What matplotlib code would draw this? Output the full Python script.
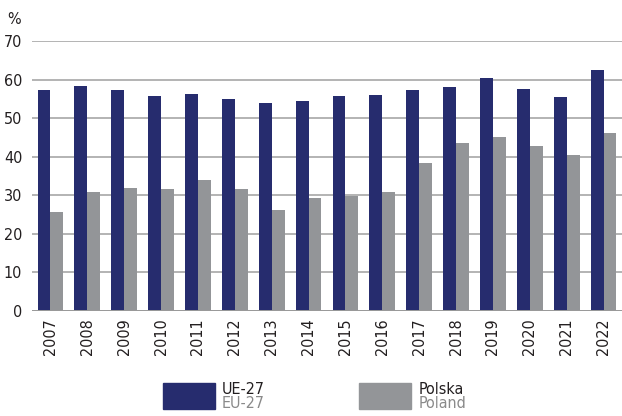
import numpy as np
import matplotlib.pyplot as plt
from matplotlib.patches import Rectangle

plt.rcParams['font.family'] = ['DejaVu Sans']
plt.rcParams['font.stretch'] = 'condensed'

years = [str(y) for y in range(2007, 2023)]
eu27 = [57.2, 58.3, 57.2, 55.7, 56.2, 54.9, 53.9, 54.4,
        55.7, 55.9, 57.2, 58.0, 60.3, 57.5, 55.4, 62.4]
poland = [25.6, 30.8, 31.8, 31.6, 33.9, 31.6, 26.2, 29.3,
          29.9, 30.8, 38.3, 43.5, 45.1, 42.7, 40.4, 46.1]

navy = '#262c6e'
grey = '#939598'
text_col = '#231f20'

fig = plt.figure(figsize=(6.22, 4.16), dpi=100)
ax = fig.add_axes([0.0514, 0.2524, 0.9486, 0.649])

x = np.arange(len(years))
w = 0.35
ax.bar(x - w / 2, eu27, width=w, color=navy, zorder=3)
ax.bar(x + w / 2, poland, width=w, color=grey, zorder=3)

ax.set_xlim(-0.5, len(years) - 0.5)
ax.set_ylim(0, 70)
ax.set_yticks(range(0, 71, 10))
ax.yaxis.grid(True, color='#b3b3b3', linewidth=1.4, zorder=0)
for s in ax.spines.values():
    s.set_visible(False)
ax.axhline(0, color='#9a9a9a', linewidth=1.4, zorder=4)

ax.set_xticks(x)
ax.set_xticklabels(years, rotation=90, fontsize=11.5, color=text_col)
ax.tick_params(axis='x', length=0, pad=5)
ax.tick_params(axis='y', length=0, pad=7, labelsize=11.5, labelcolor=text_col)

fig.text(0.012, 0.952, '%', fontsize=11.5, color=text_col, va='center')

# legend
fig.patches.append(Rectangle((163 / 622, 1 - 409 / 416), 52 / 622, 26 / 416,
                             transform=fig.transFigure, color=navy))
fig.text(222 / 622, 1 - 389 / 416, 'UE-27', fontsize=11.5, color=text_col, va='center')
fig.text(222 / 622, 1 - 404 / 416, 'EU-27', fontsize=11.5, color='#8a8a8a', va='center')
fig.patches.append(Rectangle((359 / 622, 1 - 409 / 416), 52 / 622, 26 / 416,
                             transform=fig.transFigure, color=grey))
fig.text(419 / 622, 1 - 389 / 416, 'Polska', fontsize=11.5, color=text_col, va='center')
fig.text(419 / 622, 1 - 404 / 416, 'Poland', fontsize=11.5, color='#8a8a8a', va='center')

fig.savefig('out.png', dpi=100)
